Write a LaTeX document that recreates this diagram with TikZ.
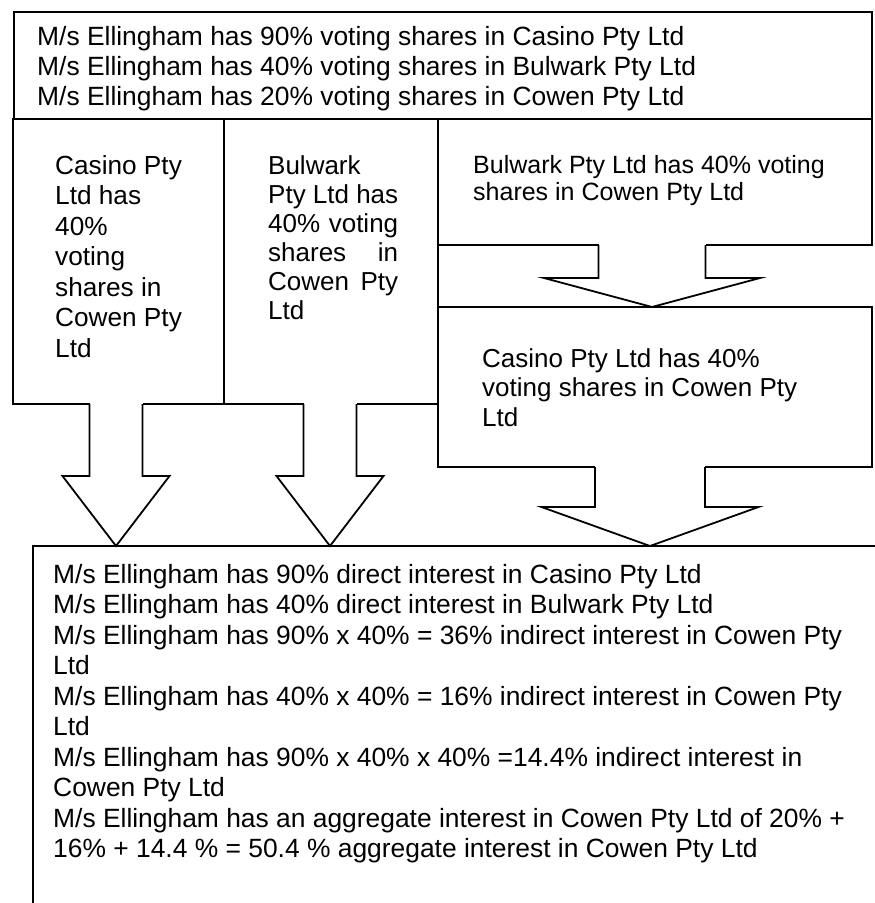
\documentclass[tikz,border=0pt]{standalone}
\usepackage{fontspec}
\setmainfont{Liberation Sans}
\usetikzlibrary{calc}
\tikzset{
box/.style={draw, line width=1.8pt, inner sep=0pt, outer sep=0pt}, % the plain rectangles
txt/.style={anchor=base west, align=left, inner sep=0pt, font=\fontsize{26.2}{30.5}\selectfont}, % text set inside the rectangles, placed by its last line
fat/.style={draw, line width=1.8pt, line join=miter}, % outline of the wide arrows
}
% wide arrow: top point, tip, half shaft, half head, head length
\newcommand{\fatarrow}[5]{%
  \fill[white] ($(#1)+(-#3,-1.5)$) rectangle ($(#2)+(#3,-#5)$);
  \draw[fat] ($(#1)+(-#3,0)$) -- ($(#2)+(-#3,-#5)$) -- ($(#2)+(-#4,-#5)$) -- (#2)
    -- ($(#2)+(#4,-#5)$) -- ($(#2)+(#3,-#5)$) -- ($(#1)+(#3,0)$);
}

\begin{document}
\begin{tikzpicture}[x=1pt, y=-1pt]
        \useasboundingbox (0,0) rectangle (875,903);

        % the rectangles
        \node[box, minimum width=858pt, minimum height=107pt] (owner) at (443,65.5) {};
        \node[box, minimum width=211pt, minimum height=285pt] (casino) at (118.5,261.5) {};
        \node[box, minimum width=214pt, minimum height=285pt] (bulwark) at (331,261.5) {};
        \node[box, minimum width=434pt, minimum height=126pt] (bulwarkR) at (655,182) {};
        \node[box, minimum width=434pt, minimum height=160pt] (casinoR) at (655,387) {};
        \node[box, minimum width=872pt, minimum height=389pt] (total) at (469,740.5) {};

        % wide arrows
        \coordinate (a1) at ([xshift=-2.5pt]casino.south);
        \coordinate (a2) at ([xshift=-1pt]bulwark.south);
        \coordinate (a3) at ([xshift=-3pt]bulwarkR.south);
        \coordinate (a4) at ([xshift=-5pt]casinoR.south);
        \coordinate (t1) at (a1 |- total.north);
        \coordinate (t2) at (a2 |- total.north);
        \coordinate (t3) at (a3 |- casinoR.north);
        \coordinate (t4) at (a4 |- total.north);
        \fatarrow{a1}{t1}{26.5}{53.5}{70}
        \fatarrow{a2}{t2}{26.5}{53.5}{70}
        \fatarrow{a3}{t3}{53.5}{108}{29}
        \fatarrow{a4}{t4}{55}{108.5}{39}

        % texts
        \node[txt, font=\fontsize{26.4}{30}\selectfont] (ownertxt) at (37,105)
          {M/s Ellingham has 90\% voting shares in Casino Pty Ltd\\
           M/s Ellingham has 40\% voting shares in Bulwark Pty Ltd\\
           M/s Ellingham has 20\% voting shares in Cowen Pty Ltd};
        \node[txt] (casinotxt) at (55,357)
          {Casino Pty\\Ltd has\\40\%\\voting\\shares in\\Cowen Pty\\Ltd};
        \node[txt, font=\fontsize{26}{29}\selectfont] (bulwarktxt) at (268,319)
          {Bulwark\\
           \makebox[130pt][s]{Pty Ltd has}\\
           \makebox[130pt][s]{40\% voting}\\
           \makebox[130pt][s]{shares in}\\
           \makebox[130pt][s]{Cowen Pty}\\
           Ltd};
        \node[txt, font=\fontsize{25}{27.5}\selectfont] (bulwarkRtxt) at (473,200.5)
          {Bulwark Pty Ltd has 40\% voting\\shares in Cowen Pty Ltd};
        \node[txt, font=\fontsize{26}{29.5}\selectfont] (casinoRtxt) at (482,426)
          {Casino Pty Ltd has 40\%\\voting shares in Cowen Pty\\Ltd};
        \node[txt, font=\fontsize{26.4}{30.5}\selectfont] (totaltxt) at (53,857.5)
          {M/s Ellingham has 90\% direct interest in Casino Pty Ltd\\
           M/s Ellingham has 40\% direct interest in Bulwark Pty Ltd\\
           M/s Ellingham has 90\% x 40\% = 36\% indirect interest in Cowen Pty\\
           Ltd\\
           M/s Ellingham has 40\% x 40\% = 16\% indirect interest in Cowen Pty\\
           Ltd\\
           M/s Ellingham has 90\% x 40\% x 40\% =14.4\% indirect interest in\\
           Cowen Pty Ltd\\
           M/s Ellingham has an aggregate interest in Cowen Pty Ltd of 20\% +\\
           16\% + 14.4 \% = 50.4 \% aggregate interest in Cowen Pty Ltd};
\end{tikzpicture}
\end{document}
